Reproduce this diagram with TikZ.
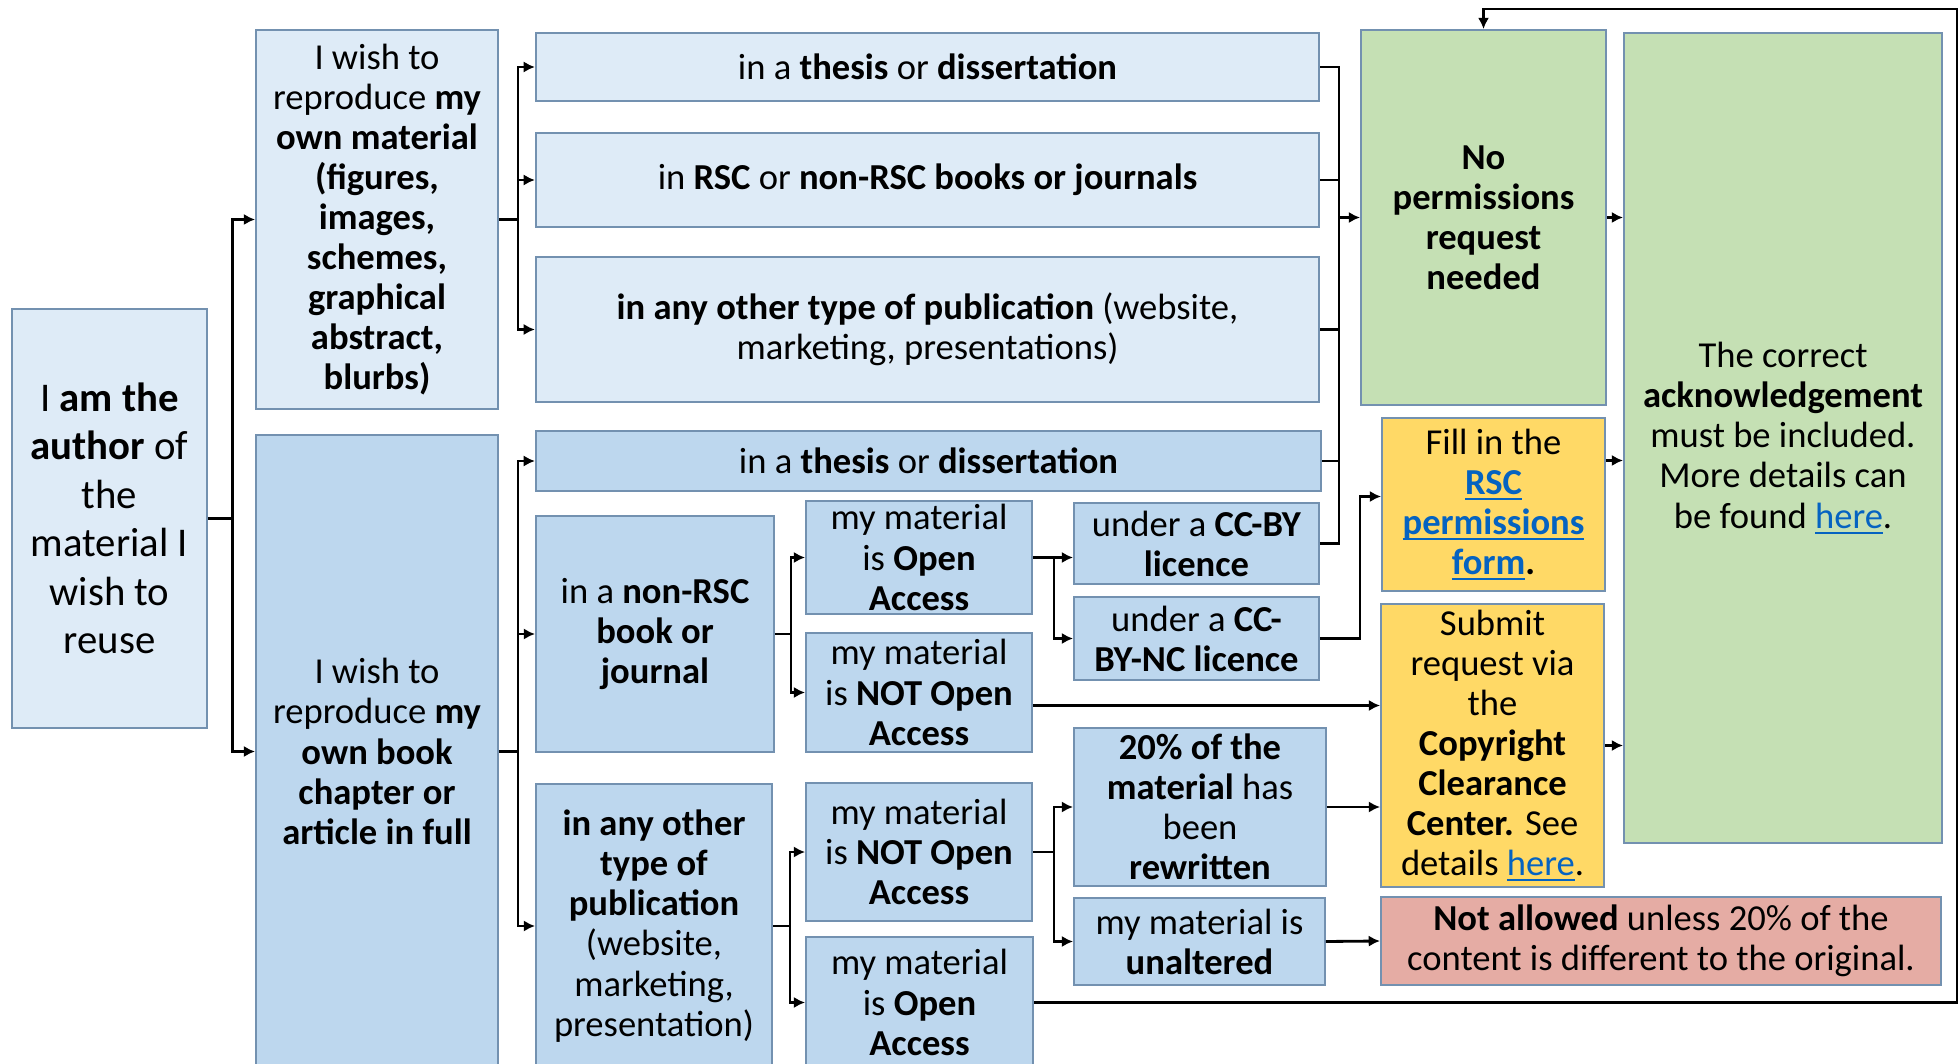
\documentclass[tikz,border=0pt]{standalone}
\usepackage{fontspec}
\setmainfont{Carlito}
\usepackage{tikz}
\usetikzlibrary{arrows.meta,calc,positioning}
\definecolor{paleblue}{HTML}{DEEBF7}
\definecolor{midblue}{HTML}{BDD7EE}
\definecolor{palegreen}{HTML}{C5E0B4}
\definecolor{goldfill}{HTML}{FFD966}
\definecolor{rosefill}{HTML}{E5ACA4}
\definecolor{edgeblue}{HTML}{7391B0}
\definecolor{linkblue}{HTML}{0563C1}
\newcommand{\weblink}[1]{\textcolor{linkblue}{\setbox0\hbox{#1}%
  \rlap{\rule[-1.6pt]{\wd0}{0.6pt}}\box0}}

\begin{document}
\begin{tikzpicture}[x=0.01cm,y=-0.01cm,
    font=\fontsize{10.4}{11.4}\selectfont,
    basebox/.style={draw=edgeblue,line width=0.5pt,align=center,inner sep=1pt},
    palebox/.style={basebox,fill=paleblue},
    midbox/.style={basebox,fill=midblue},
    greenbox/.style={basebox,fill=palegreen},
    goldbox/.style={basebox,fill=goldfill},
    rosebox/.style={basebox,fill=rosefill},
    wire/.style={line width=0.8pt},
    flow/.style={wire,-{Latex[length=3.2pt,width=3.2pt]}}]
  \useasboundingbox (0,0) rectangle (1960,1064);
  \fill[white] (0,0) rectangle (1960,1064);
  \clip (0,0) rectangle (1960,1064);

  % first column
  \node[palebox,minimum width=1.95cm,minimum height=4.19cm,
    font=\fontsize{11.6}{13.8}\selectfont] (author) at (109.5,518.5)
    {I \textbf{am the}\\ \textbf{author} of\\ the\\ material I\\ wish to\\ reuse};

  % second column
  \node[palebox,minimum width=2.42cm,minimum height=3.79cm] (ownmat) at (377,219.5)
    {I wish to\\ reproduce \textbf{my}\\ \textbf{own material}\\ \textbf{(figures,}\\
     \textbf{images,}\\ \textbf{schemes,}\\ \textbf{graphical}\\ \textbf{abstract,}\\
     \textbf{blurbs)}};
  \node[midbox,minimum width=2.42cm,minimum height=6.33cm] (ownbook) at (377,751.5)
    {I wish to\\ reproduce \textbf{my}\\ \textbf{own book}\\ \textbf{chapter or}\\
     \textbf{article in full}};

  % where the material goes
  \node[palebox,minimum width=7.83cm,minimum height=0.68cm] (thesisA) at (927.5,67)
    {in a \textbf{thesis} or \textbf{dissertation}};
  \node[palebox,minimum width=7.83cm,minimum height=0.94cm] (booksA) at (927.5,180)
    {in \textbf{RSC} or \textbf{non-RSC books or journals}};
  \node[palebox,minimum width=7.83cm,minimum height=1.45cm] (otherA) at (927.5,329.5)
    {\textbf{in any other type of publication} (website,\\ marketing, presentations)};
  \node[midbox,minimum width=7.85cm,minimum height=0.60cm] (thesisB) at (928.5,461)
    {in a \textbf{thesis} or \textbf{dissertation}};
  \node[midbox,minimum width=2.38cm,minimum height=2.36cm] (nonrsc) at (655,634)
    {in a \textbf{non-RSC}\\ \textbf{book or}\\ \textbf{journal}};
  \node[midbox,minimum width=2.36cm,minimum height=2.84cm] (otherB) at (654,926)
    {\textbf{in any other}\\ \textbf{type of}\\ \textbf{publication}\\ (website,\\
     marketing,\\ presentation)};

  % open access or not
  \node[midbox,minimum width=2.26cm,minimum height=1.11cm] (oaA) at (919,557.5)
    {my material\\ is \textbf{Open}\\ \textbf{Access}};
  \node[midbox,minimum width=2.26cm,minimum height=1.19cm] (notoaA) at (919,692.5)
    {my material\\ is \textbf{NOT Open}\\ \textbf{Access}};
  \node[midbox,minimum width=2.26cm,minimum height=1.38cm] (notoaB) at (919,852)
    {my material\\ is \textbf{NOT Open}\\ \textbf{Access}};
  \node[midbox,minimum width=2.27cm,minimum height=1.31cm] (oaB) at (919.5,1002.5)
    {my material\\ is \textbf{Open}\\ \textbf{Access}};

  % licence or rewriting
  \node[midbox,minimum width=2.45cm,minimum height=0.81cm] (ccby) at (1196.5,543.5)
    {under a \textbf{CC-BY}\\ \textbf{licence}};
  \node[midbox,minimum width=2.45cm,minimum height=0.83cm] (ccbync) at (1196.5,638.5)
    {under a \textbf{CC-}\\ \textbf{BY-NC licence}};
  \node[midbox,minimum width=2.52cm,minimum height=1.58cm] (rewrite) at (1200,807)
    {\textbf{20\% of the}\\ \textbf{material} has\\ been\\ \textbf{rewritten}};
  \node[midbox,minimum width=2.51cm,minimum height=0.87cm] (unaltered) at (1199.5,941.5)
    {my material is\\ \textbf{unaltered}};

  % outcomes
  \node[greenbox,minimum width=2.45cm,minimum height=3.75cm] (nopermit) at (1483.5,217.5)
    {\textbf{No}\\ \textbf{permissions}\\ \textbf{request}\\ \textbf{needed}};
  \node[goldbox,minimum width=2.23cm,minimum height=1.73cm] (rscform) at (1493.5,504.5)
    {Fill in the\\ \textbf{\weblink{RSC}}\\ \textbf{\weblink{permissions}}\\
     \textbf{\weblink{form}.}};
  \node[goldbox,minimum width=2.23cm,minimum height=2.83cm] (ccc) at (1492.5,745.5)
    {Submit\\ request via\\ the\\ \textbf{Copyright}\\ \textbf{Clearance}\\
     \textbf{Center.} See\\ details \weblink{here}.};
  \node[rosebox,minimum width=5.60cm,minimum height=0.88cm] (notallowed) at (1661,941)
    {\textbf{Not allowed} unless 20\% of the\\ content is different to the original.};
  \node[greenbox,minimum width=3.18cm,minimum height=8.10cm] (ack) at (1783,438)
    {The correct\\ \textbf{acknowledgement}\\ must be included.\\ More details can\\
     be found \weblink{here}.};

  % branch points
  \coordinate (splitAuthor) at ($(author.east)+(24.5,0)$);
  \coordinate (splitOwn) at ($(ownmat.east)+(19,0)$);
  \coordinate (splitBook) at ($(ownbook.east)+(19,0)$);
  \coordinate (splitNonRSC) at ($(nonrsc.east)+(16,0)$);
  \coordinate (splitOther) at ($(otherB.east)+(17,0)$);
  \coordinate (splitOA) at ($(oaA.east)+(21,0)$);
  \coordinate (splitNotOA) at ($(notoaB.east)+(21,0)$);
  \coordinate (joinNP) at ($(nopermit.west)+(-21,0)$);
  \coordinate (loopcorner) at (1957,9);

  \draw[wire] (author.east) -- (splitAuthor);
  \draw[flow] (splitAuthor) |- (ownmat.west);
  \draw[flow] (splitAuthor) |- (ownbook.west);

  \draw[wire] (ownmat.east) -- (splitOwn);
  \foreach \dst in {thesisA,booksA,otherA}
    \draw[flow] (splitOwn) |- (\dst.west);

  \draw[wire] (ownbook.east) -- (splitBook);
  \foreach \dst in {thesisB,nonrsc,otherB}
    \draw[flow] (splitBook) |- (\dst.west);

  \draw[wire] (nonrsc.east) -- (splitNonRSC);
  \draw[flow] (splitNonRSC) |- (oaA.west);
  \draw[flow] (splitNonRSC) |- (notoaA.west);

  \draw[wire] (otherB.east) -- (splitOther);
  \draw[flow] (splitOther) |- (notoaB.west);
  \draw[flow] (splitOther) |- (oaB.west);

  \draw[flow] (oaA.east) -- (oaA.east -| ccby.west);
  \draw[flow] (splitOA) |- (ccbync.west);

  \draw[wire] (notoaB.east) -- (splitNotOA);
  \draw[flow] (splitNotOA) |- (rewrite.west);
  \draw[flow] (splitNotOA) |- (unaltered.west);

  % into no permissions
  \foreach \src in {thesisA,booksA,otherA,thesisB,ccby}
    \draw[wire] (\src.east) -| (joinNP);
  \draw[flow] (joinNP) -- (nopermit.west);

  \draw[flow] (ccbync.east) -- ++(40,0) |- ($(rscform.west)+(0,-8)$);
  \draw[flow] ($(notoaA.east)+(0,13)$) -- ($(ccc.west |- notoaA.east)+(0,13)$);
  \draw[flow] (rewrite.east) -- (rewrite.east -| ccc.west);
  \draw[flow] (unaltered.east) -- (notallowed.west);

  % to acknowledgement
  \draw[flow] (nopermit.east) -- (nopermit.east -| ack.west);
  \draw[flow] ($(rscform.east)+(0,-44)$) -- ($(ack.west |- rscform.east)+(0,-44)$);
  \draw[flow] (ccc.east) -- (ccc.east -| ack.west);

  % open access loops back to the top
  \draw[flow] (oaB.east) -| (loopcorner) -| (nopermit.north);
\end{tikzpicture}
\end{document}
